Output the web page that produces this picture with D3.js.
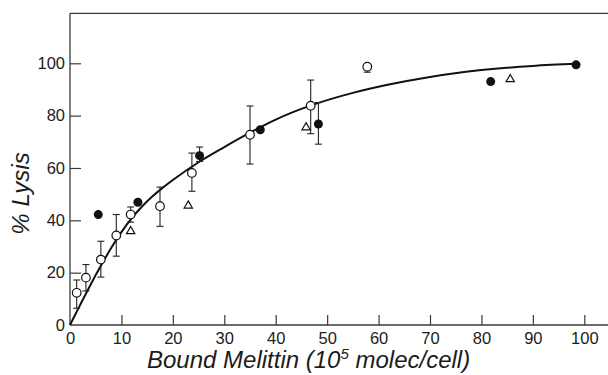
<!DOCTYPE html>
<html>
<head>
<meta charset="utf-8">
<script src="https://cdn.jsdelivr.net/npm/d3@7"></script>
<style>
  html, body { margin: 0; padding: 0; background: #fff; }
  svg { display: block; }
  text { font-family: "Liberation Sans", Arial, Helvetica, sans-serif; fill: #1c1c1c; }
</style>
</head>
<body>
<svg id="chart" width="608" height="375"></svg>
<script>
// Axis ticks
const xTicks = [0, 10, 20, 30, 40, 50, 60, 70, 80, 90, 100];
const yTicks = [0, 20, 40, 60, 80, 100];

// Open circles (mean with error bar)
const openX    = [1.3, 3.1, 6.0, 9.0, 11.8, 17.5, 23.7, 35.0, 46.8, 57.8];
const openY    = [12.3, 18.1, 25.0, 34.2, 42.2, 45.4, 58.1, 72.7, 83.8, 98.7];
const openLow  = [6.4, 13.0, 18.3, 26.3, 39.3, 37.7, 51.1, 61.5, 73.1, 96.6];
const openHigh = [17.2, 23.1, 32.0, 42.2, 45.1, 52.7, 65.7, 83.7, 93.6, 98.7];

// Filled circles
const filledX    = [5.5, 13.2, 25.2, 37.0, 48.3, 81.8, 98.4];
const filledY    = [42.2, 46.9, 64.7, 74.6, 76.8, 93.0, 99.4];
const filledLow  = [null, null, 62.5, null, 69.1, null, null];
const filledHigh = [null, null, 68.0, null, 85.0, null, null];

// Open triangles
const triX = [11.8, 23.0, 45.9, 85.6];
const triY = [35.8, 45.6, 75.5, 93.9];

// Fitted saturation curve
const curveX = [0, 2, 4, 6, 8, 10, 12, 14, 16, 18, 20, 25, 30, 35, 40, 47, 55, 62, 70, 80, 90, 98.5];
const curveY = [0, 7.8, 15.4, 22.6, 29.4, 35.5, 40.8, 45.3, 49.1, 52.4, 55.4, 62.2, 68.0, 73.5, 78.5, 84.0, 88.7, 91.9, 94.8, 97.4, 99.0, 99.8];

const svg = d3.select("#chart");

const x = d3.scaleLinear().domain([0, 100]).range([70, 584.3]);
const y = d3.scaleLinear().domain([0, 100]).range([325, 63.3]);
const xMax = 104.6;   // frame runs past the last tick
const yMax = 119.1;

// Frame: left, bottom and top rules
const frame = svg.append("g").attr("stroke", "#3a3a3a").attr("stroke-width", 1.3).attr("fill", "none");
frame.append("line").attr("x1", x(0)).attr("x2", x(0)).attr("y1", y(0)).attr("y2", y(yMax));
frame.append("line").attr("x1", x(0)).attr("x2", x(xMax)).attr("y1", y(0)).attr("y2", y(0));
frame.append("line").attr("x1", x(0)).attr("x2", x(xMax)).attr("y1", y(yMax)).attr("y2", y(yMax));

// Axes with inward ticks
const xAxis = svg.append("g")
  .attr("transform", `translate(0,${y(0)})`)
  .call(d3.axisBottom(x).tickValues(xTicks).tickSize(-10).tickPadding(7).tickFormat(d3.format("d")));
const yAxis = svg.append("g")
  .attr("transform", `translate(${x(0)},0)`)
  .call(d3.axisLeft(y).tickValues(yTicks).tickSize(-11).tickPadding(5).tickFormat(d3.format("d")));

[xAxis, yAxis].forEach(g => {
  g.select(".domain").remove();
  g.selectAll(".tick line").attr("stroke", "#3a3a3a").attr("stroke-width", 1.2);
  g.selectAll(".tick text").attr("font-size", 16.5).attr("fill", "#1c1c1c")
    .style("font-family", "'Liberation Sans', Arial, sans-serif");
});
xAxis.selectAll(".tick").filter(d => d === 0).select("line").remove();
yAxis.selectAll(".tick").filter(d => d === 0).select("line").remove();

// Curve
const line = d3.line().x(d => x(d[0])).y(d => y(d[1])).curve(d3.curveMonotoneX);
svg.append("path")
  .datum(curveX.map((v, i) => [v, curveY[i]]))
  .attr("d", line)
  .attr("fill", "none")
  .attr("stroke", "#111")
  .attr("stroke-width", 2);

// Error bars
const capW = 3.5;
function errorBar(g, xv, lo, hi) {
  const gg = g.append("g").attr("stroke", "#222").attr("stroke-width", 1.1);
  gg.append("line").attr("x1", x(xv)).attr("x2", x(xv)).attr("y1", y(lo)).attr("y2", y(hi));
  gg.append("line").attr("x1", x(xv) - capW).attr("x2", x(xv) + capW).attr("y1", y(lo)).attr("y2", y(lo));
  gg.append("line").attr("x1", x(xv) - capW).attr("x2", x(xv) + capW).attr("y1", y(hi)).attr("y2", y(hi));
}
const bars = svg.append("g");
openX.forEach((v, i) => errorBar(bars, v, openLow[i], openHigh[i]));
filledX.forEach((v, i) => { if (filledLow[i] != null) errorBar(bars, v, filledLow[i], filledHigh[i]); });

// Markers
svg.append("g").selectAll("path")
  .data(triX.map((v, i) => [v, triY[i]]))
  .join("path")
  .attr("transform", d => `translate(${x(d[0])},${y(d[1])})`)
  .attr("d", d3.symbol(d3.symbolTriangle, 30))
  .attr("fill", "#fff").attr("stroke", "#111").attr("stroke-width", 1.2);

svg.append("g").selectAll("circle")
  .data(filledX.map((v, i) => [v, filledY[i]]))
  .join("circle")
  .attr("cx", d => x(d[0])).attr("cy", d => y(d[1])).attr("r", 4.5)
  .attr("fill", "#111");

svg.append("g").selectAll("circle")
  .data(openX.map((v, i) => [v, openY[i]]))
  .join("circle")
  .attr("cx", d => x(d[0])).attr("cy", d => y(d[1])).attr("r", 4.3)
  .attr("fill", "#fff").attr("stroke", "#111").attr("stroke-width", 1.2);

// Axis titles
const xTitle = svg.append("text")
  .attr("x", 147).attr("y", 368)
  .attr("font-size", 24).attr("font-style", "italic");
xTitle.append("tspan").text("Bound Melittin (10");
xTitle.append("tspan").attr("font-size", 15).attr("dy", -9).text("5");
xTitle.append("tspan").attr("dy", 9).text(" molec/cell)");

svg.append("text")
  .attr("transform", "translate(29,193.5) rotate(-90)")
  .attr("text-anchor", "middle")
  .attr("font-size", 24).attr("font-style", "italic")
  .text("% Lysis");
</script>
</body>
</html>
